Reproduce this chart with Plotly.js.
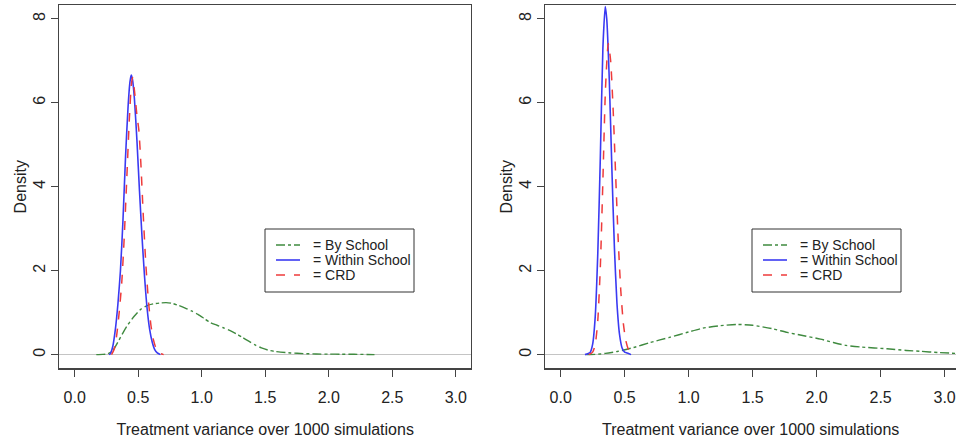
<!DOCTYPE html>
<html><head><meta charset="utf-8">
<script src="https://cdn.plot.ly/plotly-3.0.1.min.js"></script>
<style>html,body{margin:0;padding:0;background:#fff}</style>
</head><body><div id="chart" style="width:956px;height:438px"></div>
<script>
// ---- data ----
const seriesNames = ['= By School', '= Within School', '= CRD'];
const xTicks = [0, 0.5, 1, 1.5, 2, 2.5, 3];
const xTickLabels = ['0.0', '0.5', '1.0', '1.5', '2.0', '2.5', '3.0'];
const yTicks = [0, 2, 4, 6, 8];
const yTickLabels = ['0', '2', '4', '6', '8'];
const xTitle = 'Treatment variance over 1000 simulations';
const yTitle = 'Density';

// Left panel
const leftByX = [0.17, 0.22, 0.26, 0.30, 0.34, 0.38, 0.42, 0.47, 0.52, 0.57, 0.62, 0.67, 0.72, 0.77, 0.82, 0.87, 0.92, 0.97, 1.02, 1.07, 1.12, 1.17, 1.22, 1.27, 1.32, 1.37, 1.42, 1.47, 1.52, 1.57, 1.62, 1.70, 1.80, 1.90, 2.00, 2.10, 2.20, 2.30, 2.36];
const leftByY = [0.0, 0.005, 0.02, 0.1, 0.3, 0.52, 0.72, 0.92, 1.08, 1.17, 1.21, 1.23, 1.24, 1.22, 1.17, 1.11, 1.04, 0.96, 0.86, 0.76, 0.70, 0.64, 0.58, 0.50, 0.41, 0.32, 0.23, 0.16, 0.11, 0.08, 0.06, 0.04, 0.025, 0.015, 0.012, 0.01, 0.008, 0.004, 0.0];
const leftWithinX = [0.27, 0.28, 0.30, 0.32, 0.34, 0.36, 0.38, 0.40, 0.42, 0.435, 0.445, 0.455, 0.47, 0.49, 0.51, 0.53, 0.55, 0.57, 0.59, 0.61, 0.63, 0.65, 0.675];
const leftWithinY = [0.0, 0.02, 0.2, 0.6, 1.2, 2.0, 3.2, 4.7, 5.9, 6.5, 6.66, 6.55, 6.1, 5.1, 3.9, 2.8, 1.85, 1.1, 0.6, 0.3, 0.12, 0.04, 0.0];
const leftCrdX = [0.29, 0.31, 0.33, 0.35, 0.37, 0.39, 0.41, 0.43, 0.445, 0.455, 0.47, 0.49, 0.505, 0.52, 0.54, 0.56, 0.58, 0.60, 0.62, 0.64, 0.66, 0.68, 0.70];
const leftCrdY = [0.0, 0.12, 0.45, 1.0, 1.7, 2.8, 4.2, 5.6, 6.4, 6.6, 6.3, 5.7, 5.35, 4.6, 3.3, 2.15, 1.3, 0.7, 0.35, 0.15, 0.06, 0.02, 0.0];

// Right panel
const rightByX = [0.20, 0.27, 0.35, 0.45, 0.57, 0.70, 0.85, 1.00, 1.11, 1.25, 1.375, 1.50, 1.65, 1.77, 1.90, 2.03, 2.13, 2.23, 2.35, 2.55, 2.70, 2.81, 2.95, 3.09];
const rightByY = [0.0, 0.005, 0.03, 0.08, 0.17, 0.29, 0.41, 0.54, 0.63, 0.69, 0.72, 0.70, 0.62, 0.53, 0.45, 0.37, 0.29, 0.22, 0.18, 0.14, 0.10, 0.08, 0.05, 0.03];
const rightWithinX = [0.19, 0.23, 0.25, 0.27, 0.29, 0.31, 0.33, 0.348, 0.36, 0.38, 0.40, 0.42, 0.44, 0.46, 0.48, 0.50, 0.52, 0.55];
const rightWithinY = [0.0, 0.05, 0.25, 0.9, 2.4, 4.7, 7.3, 8.29, 8.0, 6.55, 4.45, 2.55, 1.22, 0.48, 0.16, 0.06, 0.04, 0.0];
const rightCrdX = [0.22, 0.25, 0.27, 0.29, 0.31, 0.33, 0.35, 0.372, 0.39, 0.41, 0.43, 0.45, 0.47, 0.49, 0.51, 0.53, 0.55, 0.58];
const rightCrdY = [0.0, 0.06, 0.24, 0.81, 2.09, 4.15, 6.32, 7.41, 7.02, 5.84, 4.25, 2.71, 1.52, 0.74, 0.32, 0.12, 0.04, 0.0];

// ---- styles ----
const FONT = 'Liberation Sans, Arial, Helvetica, sans-serif';
const W = 956, H = 438;
const green = '#3f8a3f', blue = '#3a3af2', red = '#ee3b3b';
const lineStyles = [
  {color: green, width: 1.4, dash: 'dashdot'},
  {color: blue, width: 1.6, dash: 'solid'},
  {color: red, width: 1.5, dash: 'dash'}
];

function tr(x, y, i, ax) {
  return {
    type: 'scatter', mode: 'lines', x: x, y: y, name: seriesNames[i],
    line: Object.assign({shape: 'spline', smoothing: 0.6}, lineStyles[i]),
    xaxis: ax === 1 ? 'x' : 'x2', yaxis: ax === 1 ? 'y' : 'y2',
    showlegend: false, hoverinfo: 'skip'
  };
}

const data = [
  tr(leftByX, leftByY, 0, 1),
  tr(leftWithinX, leftWithinY, 1, 1),
  tr(leftCrdX, leftCrdY, 2, 1),
  tr(rightByX, rightByY, 0, 2),
  tr(rightWithinX, rightWithinY, 1, 2),
  tr(rightCrdX, rightCrdY, 2, 2)
];

function xa(domain, range, mirror) {
  return {
    domain: domain, range: range, tickvals: xTicks, ticktext: xTickLabels,
    showline: true, mirror: mirror, linecolor: '#444', linewidth: 1.3,
    ticks: 'outside', ticklen: 7, tickcolor: '#444', tickwidth: 1.2,
    ticklabelstandoff: 7,
    showgrid: false, zeroline: false,
    tickfont: {family: FONT, size: 16, color: '#222'},
    title: {text: xTitle, font: {family: FONT, size: 16, color: '#222'}, standoff: 18},
    automargin: false, fixedrange: true
  };
}
function ya(domain, anchor, mirror) {
  return {
    domain: domain, range: [-0.33, 8.33], tickvals: yTicks, ticktext: yTickLabels,
    tickangle: -90, anchor: anchor,
    showline: true, mirror: mirror, linecolor: '#444', linewidth: 1.3,
    ticks: 'outside', ticklen: 7, tickcolor: '#444', tickwidth: 1.2,
    showgrid: false, zeroline: true, zerolinecolor: '#c4c4c4', zerolinewidth: 1,
    tickfont: {family: FONT, size: 16, color: '#222'},
    title: {text: yTitle, font: {family: FONT, size: 16, color: '#222'}, standoff: 0},
    automargin: false, fixedrange: true
  };
}

// ---- hand-drawn legends (box, sample lines, labels), one per panel ----
const legendLefts = [265, 752];     // px, box left edge
const boxW = 149, boxTop = 229, boxBottom = 292;
const rowYs = [245, 260, 275];
const shapes = [], annotations = [];
const px = v => v / W, py = v => 1 - v / H;
legendLefts.forEach(L => {
  shapes.push({type: 'rect', xref: 'paper', yref: 'paper',
    x0: px(L), x1: px(L + boxW), y0: py(boxBottom), y1: py(boxTop),
    line: {color: '#333', width: 1}, fillcolor: '#fff', layer: 'above'});
  seriesNames.forEach((nm, i) => {
    shapes.push({type: 'line', xref: 'paper', yref: 'paper',
      x0: px(L + 11), x1: px(L + 35), y0: py(rowYs[i]), y1: py(rowYs[i]),
      line: lineStyles[i], layer: 'above'});
    annotations.push({xref: 'paper', yref: 'paper', x: px(L + 46), y: py(rowYs[i]),
      xanchor: 'left', yanchor: 'middle', text: nm, showarrow: false,
      font: {family: FONT, size: 14, color: '#222'}});
  });
});

const layout = {
  width: W, height: H,
  margin: {l: 0, r: 0, t: 0, b: 0},
  paper_bgcolor: '#fff', plot_bgcolor: '#fff',
  font: {family: FONT},
  showlegend: false,
  xaxis: Object.assign(xa([0.0622, 0.4927], [-0.12, 3.12], true), {anchor: 'y'}),
  yaxis: ya(yDomain(), 'x', true),
  xaxis2: Object.assign(xa([0.5704, 1.0], [-0.12, 3.089], true), {anchor: 'y2'}),
  yaxis2: ya(yDomain(), 'x2', false),
  shapes: shapes, annotations: annotations
};
function yDomain() { return [0.1587, 0.9886]; }

Plotly.newPlot('chart', data, layout, {staticPlot: true, displayModeBar: false});
</script>
</body></html>
